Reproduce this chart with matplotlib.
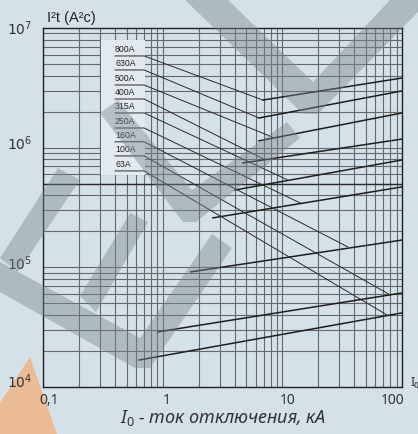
import matplotlib
matplotlib.use('Agg')
import matplotlib.pyplot as plt
from matplotlib.patches import Polygon, Rectangle
import matplotlib.transforms as mtransforms

# данные
labels = ['800A', '630A', '500A', '400A', '315A', '250A', '160A', '100A', '63A']
# начало и конец линий I2t (кА, А2с)
i_start = [6.88, 6.38, 6.38, 4.69, 4.02, 2.63, 1.72, 0.914, 0.634]
w_start = [2.50e6, 1.77e6, 1.14e6, 7.45e5, 4.43e5, 2.59e5, 9.16e4, 2.89e4, 1.68e4]
i_end = [100, 100, 100, 100, 100, 100, 100, 100, 100]
w_end = [3.82e6, 2.98e6, 1.95e6, 1.18e6, 7.89e5, 4.70e5, 1.69e5, 6.11e4, 4.16e4]
# выноски от подписей
label_y = [5.84e6, 4.46e6, 3.34e6, 2.55e6, 1.95e6, 1.46e6, 1.12e6, 8.53e5, 6.39e5]
lead_x = [6.88, 6.38, 8.19, 7.16, 11.1, 14.1, 35.3, 79.7, 76.1]
lead_y = [2.50e6, 1.77e6, 1.23e6, 7.94e5, 5.37e5, 3.45e5, 1.48e5, 5.88e4, 3.96e4]

xticks = [0.1, 1, 10, 100]
xticklabels = ['0,1', '1', '10', '100']
yticks = [1e4, 1e5, 1e6, 1e7]
yticklabels = [r'$\mathregular{10^4}$', r'$\mathregular{10^5}$', r'$\mathregular{10^6}$', r'$\mathregular{10^7}$']

bg = '#d4e1e9'
plt.rcParams['mathtext.fontset'] = 'custom'
plt.rcParams['mathtext.rm'] = 'Noto Sans'
plt.rcParams['mathtext.it'] = 'Noto Sans:italic'

fig = plt.figure(figsize=(4.18, 4.34), dpi=100, facecolor=bg)

# оранжевый угол (под осями)
fig.patches.append(Polygon([(30 / 418, 1 - 357 / 434), (0, 1 - 403 / 434), (0, 0), (57 / 418, 0)],
                           closed=True, transform=fig.transFigure, facecolor='#ebbb94',
                           edgecolor='none', zorder=-5))

ax = fig.add_axes([43 / 418, 1 - 387 / 434, 359 / 418, 359 / 434])
ax.set_facecolor(bg)
ax.set_xscale('log')
ax.set_yscale('log')
ax.set_xlim(0.1, 100)
ax.set_ylim(1e4, 1e7)

# сетка
ax.set_axisbelow(True)
ax.grid(which='both', color='#686868', lw=0.8)
ax.axhline(5e5, color='#2a2a2a', lw=1.0, zorder=1.5)
for s in ax.spines.values():
    s.set_color('#222222')
    s.set_linewidth(1.0)
ax.tick_params(which='both', length=0)

# светлая рамка с подписями
ax.add_patch(Rectangle((0.305, 5.94e5), 0.711 - 0.305, 7.94e6 - 5.94e5,
                       facecolor='#e2eaef', edgecolor='none', zorder=1))

for i in range(len(labels)):
    ax.plot([i_start[i], i_end[i]], [w_start[i], w_end[i]], color='#1e1e1e', lw=1.1, zorder=3)
    ax.plot([0.40, 0.70, lead_x[i]], [label_y[i], label_y[i], lead_y[i]],
            color='#2a2a2a', lw=0.7, zorder=3)
    ax.text(0.40, label_y[i] * 1.03, labels[i], fontsize=6.3, family='Liberation Sans',
            color='#222222', va='bottom', ha='left', zorder=4)

ax.set_xticks(xticks)
ax.set_xticklabels(xticklabels, fontsize=10, family='Noto Sans', color='#333333')
ax.set_yticks(yticks)
ax.set_yticklabels(yticklabels, fontsize=10, color='#333333', va='center')
ax.xaxis.set_minor_formatter(plt.NullFormatter())
ax.yaxis.set_minor_formatter(plt.NullFormatter())
ax.tick_params(axis='x', pad=4)
ax.tick_params(axis='y', pad=8)
for lab, dx in zip(ax.get_xticklabels(), [6, 4, 5, -9]):
    lab.set_transform(lab.get_transform() + mtransforms.ScaledTranslation(dx / 100, 0, fig.dpi_scale_trans))
for lab, dy in zip(ax.get_yticklabels(), [5, 4, 4, -1]):
    lab.set_transform(lab.get_transform() + mtransforms.ScaledTranslation(0, dy / 100, fig.dpi_scale_trans))

fig.text(47 / 418, 1 - 18 / 434, 'I²t (A²c)', fontsize=10.5, family='Liberation Sans',
         color='#222222', va='center', ha='left')
fig.text(223 / 418, 1 - 418 / 434, r'$I_0$ - ток отключения, кА', fontsize=13,
         family='Noto Sans', style='italic', color='#333333', ha='center', va='center')
fig.text(411 / 418, 1 - 383 / 434, 'I₀', fontsize=9, family='Noto Sans',
         color='#333333', ha='left', va='center')

# водяные знаки (в пикселях, от левого верхнего угла)
px = mtransforms.Affine2D().scale(1 / 418, -1 / 434).translate(0, 1) + fig.transFigure
for pts in [
    [(185, 0), (228, 0), (313, 82), (390, 0), (418, 0), (418, 12), (318, 114), (303, 114)],
    [(100, 113), (118, 100), (192, 190), (287, 122), (300, 138), (196, 222), (183, 222)],
    [(0, 262), (0, 292), (135, 368), (150, 368), (232, 248), (212, 234), (140, 338)],
    [(0, 258), (58, 168), (80, 180), (18, 272)],
    [(80, 296), (130, 213), (148, 222), (96, 312)],
]:
    fig.patches.append(Polygon(pts, closed=True, transform=px, facecolor='#7a858b',
                               edgecolor='none', alpha=0.42, zorder=5))

fig.savefig('out.png', dpi=100, facecolor=bg)
